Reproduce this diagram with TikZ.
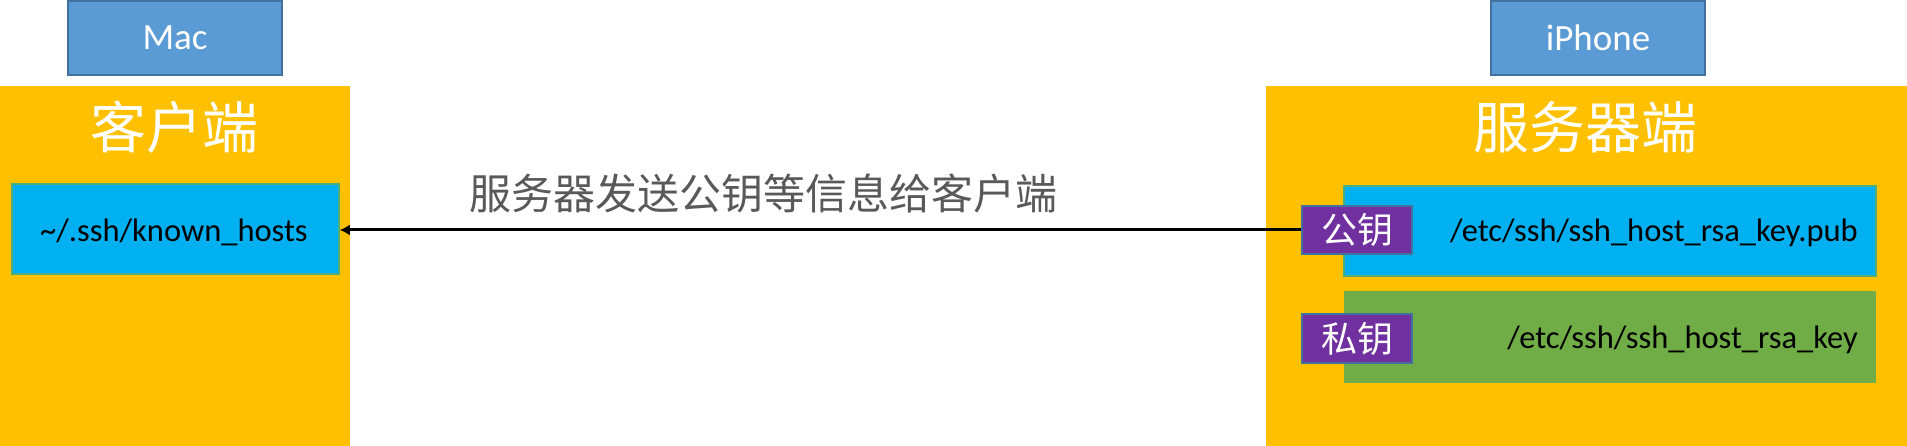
\documentclass[tikz,border=0pt]{standalone}
\usepackage{fontspec}
\setmainfont{Carlito}
\newfontfamily\cjk{Noto Sans CJK SC}
\usetikzlibrary{arrows.meta}
\definecolor{devfill}{HTML}{5B9BD5}
\definecolor{devline}{HTML}{41719C}
\definecolor{panel}{HTML}{FFC000}
\definecolor{filebox}{HTML}{00B0F0}
\definecolor{keybox}{HTML}{70AD47}
\definecolor{tagfill}{HTML}{7030A0}
\definecolor{labelgray}{HTML}{595959}
\tikzset{
  device/.style={draw=devline, line width=2pt, fill=devfill, text=white, inner sep=0pt,
    minimum width=214pt, minimum height=74pt, font=\fontsize{37}{40}\selectfont},
  panelbox/.style={fill=panel, inner sep=0pt},
  paneltitle/.style={text=white, inner sep=0pt, font=\cjk\fontsize{56}{60}\selectfont},
  pathbox/.style={fill=filebox, draw=keybox!70!filebox, line width=1.5pt, inner sep=0pt},
  privbox/.style={fill=keybox, inner sep=0pt},
  pathtext/.style={inner sep=0pt, text=black, font=\fontsize{32.5}{36}\selectfont},
  keytag/.style={fill=tagfill, draw=devline, line width=2pt, text=white, inner sep=0pt,
    minimum width=110pt, minimum height=48pt, font=\cjk\fontsize{36}{40}\selectfont},
  msg/.style={text=labelgray, inner sep=0pt, font=\cjk\fontsize{42}{46}\selectfont},
  sendarrow/.style={line width=3pt, -{Latex[length=10pt,width=11pt]}}
}
\begin{document}
\begin{tikzpicture}[x=1pt,y=-1pt]
\useasboundingbox (0,0) rectangle (1907,446);
\fill[white] (0,0) rectangle (1907,446);
% panels
\node[panelbox, minimum width=350pt, minimum height=360pt] (clientpanel) at (175,266) {};
\node[panelbox, minimum width=641pt, minimum height=360pt] (serverpanel) at (1586.5,266) {};
\node[paneltitle] (clienttitle) at (174,127) {客户端};
\node[paneltitle] (servertitle) at (1585,127) {服务器端};
% devices
\node[device] (mac) at (175,38) {Mac};
\node[device] (iphone) at (1598,38) {iPhone};
% client file
\node[pathbox, minimum width=327pt, minimum height=90pt] (known) at (175.5,229) {};
\node[pathtext] (knowntext) at (174,232) {\textasciitilde/.ssh/known\_hosts};
% server files
\node[pathbox, minimum width=532pt, minimum height=90pt] (pubbox) at (1610,231) {};
\node[privbox, minimum width=532pt, minimum height=92pt] (privbox) at (1610,337) {};
\node[pathtext, anchor=east] (pubtext) at (1858,233) {/etc/ssh/ssh\_host\_rsa\_key.pub};
\node[pathtext, anchor=east] (privtext) at (1858,340) {/etc/ssh/ssh\_host\_rsa\_key};
\node[keytag] (pubtag) at (1357,230) {公钥};
\node[keytag, minimum height=49pt] (privtag) at (1357,338.5) {私钥};
% message
\node[msg] (msglabel) at (763,193) {服务器发送公钥等信息给客户端};
\draw[sendarrow] (pubtag.west) -- (pubtag.west -| known.east);
\end{tikzpicture}
\end{document}
